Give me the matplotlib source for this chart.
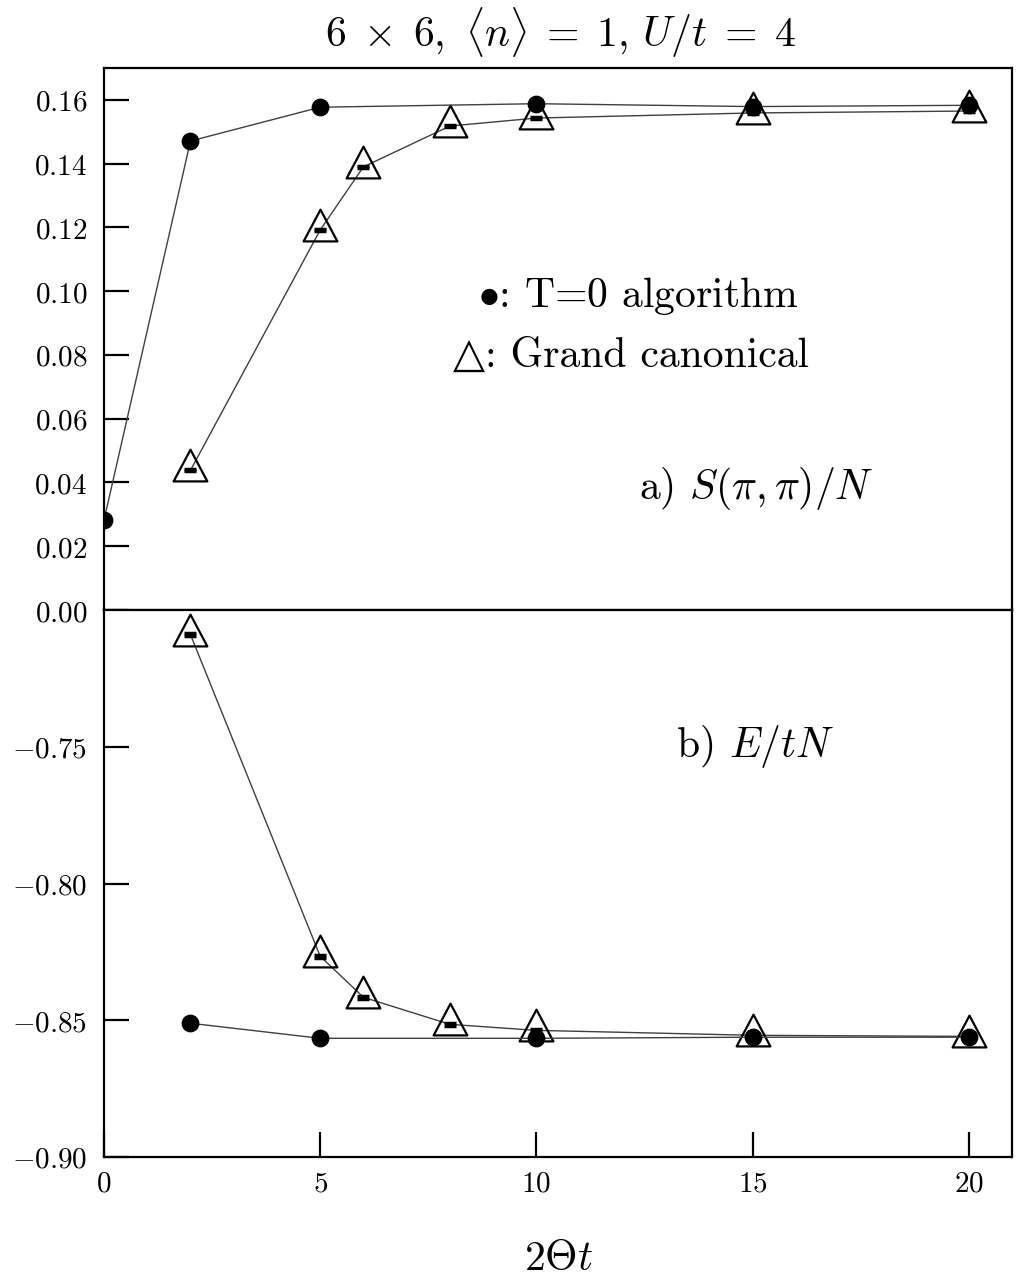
import matplotlib
matplotlib.use("Agg")
import matplotlib.pyplot as plt
from matplotlib.path import Path
import numpy as np

plt.rcParams['mathtext.fontset'] = 'cm'
plt.rcParams['axes.unicode_minus'] = True

# ---- data ----
x_t0_top = [0, 2, 5, 10, 15, 20]
s_t0 = [0.0282, 0.1471, 0.1577, 0.1588, 0.1579, 0.1583]

x_gc = [2, 5, 6, 8, 10, 15, 20]
s_gc = [0.0438, 0.1192, 0.1390, 0.1518, 0.1543, 0.1559, 0.1565]
s_gc_err = [0.0003, 0.0003, 0.0003, 0.0003, 0.0003, 0.0003, 0.0003]

x_t0_bot = [2, 5, 10, 15, 20]
e_t0 = [-0.8511, -0.8566, -0.8566, -0.8562, -0.8562]

e_gc = [-0.7090, -0.8266, -0.8416, -0.8515, -0.8537, -0.8555, -0.8559]
e_gc_err = [0.0006, 0.0006, 0.0006, 0.0006, 0.0006, 0.0006, 0.0006]

top_yticks = [0.00, 0.02, 0.04, 0.06, 0.08, 0.10, 0.12, 0.14, 0.16]
top_ylabels = ["0.00", "0.02", "0.04", "0.06", "0.08", "0.10", "0.12", "0.14", "0.16"]
bot_yticks = [-0.90, -0.85, -0.80, -0.75]
bot_ylabels = ["-0.90", "-0.85", "-0.80", "-0.75"]
xticks = [0, 5, 10, 15, 20]
xlabels = ["0", "5", "10", "15", "20"]

title = r"$6\;\times\;6,\ \langle n\rangle \;=\; 1,\, U/t \;=\; 4$"
leg1 = r"$\bullet$: T=0 algorithm"
leg2 = "\u25B3: Grand canonical"
panel_a = r"a) $S(\pi,\pi)/N$"
panel_b = r"b) $E/tN$"
xlab = r"$2\Theta t$"

# ---- figure ----
W, H = 1016, 1281
fig = plt.figure(figsize=(W/100, H/100), dpi=100)
left = 104/W
right = 1012/W
y_top = 1 - 68/H
y_mid = 1 - 610/H
y_bot = 1 - 1157/H
ax1 = fig.add_axes([left, y_mid, right-left, y_top-y_mid])
ax2 = fig.add_axes([left, y_bot, right-left, y_mid-y_bot])

tri = Path([(0, 21), (-17, -11), (17, -11), (0, 21)],
           [Path.MOVETO, Path.LINETO, Path.LINETO, Path.CLOSEPOLY])

lc = '#404040'
lw = 1.0

def draw(ax, xg, yg, eg, xc, yc):
    ax.errorbar(xg, yg, yerr=eg, fmt='none', ecolor='black', elinewidth=1.5,
                capsize=4.5, capthick=2.5, zorder=3)
    ax.plot(xg, yg, '-', color=lc, lw=lw, marker=tri, ms=30, mfc='none',
            mec='black', mew=1.6, zorder=2)
    ax.plot(xc, yc, '-', color=lc, lw=lw, marker='o', ms=11.8, mfc='black',
            mec='black', zorder=4)

draw(ax1, x_gc, s_gc, s_gc_err, x_t0_top, s_t0)
draw(ax2, x_gc, e_gc, e_gc_err, x_t0_bot, e_t0)

for ax in (ax1, ax2):
    ax.set_xlim(0, 21)
    for sp in ax.spines.values():
        sp.set_linewidth(1.6)
    ax.tick_params(direction='in', length=18, width=1.6, top=False, right=False)

ax1.set_ylim(0, 0.17)
ax2.set_ylim(-0.90, -0.70)

tfs = 21
ax1.set_yticks(top_yticks)
ax1.set_yticklabels([f"${s}$" for s in top_ylabels], fontsize=tfs)
ax2.set_yticks(bot_yticks)
ax2.set_yticklabels([f"${s}$" for s in bot_ylabels], fontsize=tfs)
ax1.tick_params(axis='x', bottom=False, labelbottom=False)
ax2.set_xticks(xticks)
ax2.set_xticklabels([f"${s}$" for s in xlabels], fontsize=tfs)
ax1.tick_params(axis='y', pad=12)
ax2.tick_params(axis='y', pad=12)
ax2.tick_params(axis='x', pad=9)

fs = 30
fig.text(560/W, 1 - 33/H, title, ha='center', va='center', fontsize=fs)

def fx(px):
    return (px - 104) / (1012 - 104)

def fy1(py):
    return 1 - (py - 68) / (610 - 68)

def fy2(py):
    return 1 - (py - 610) / (1157 - 610)

ax1.text(fx(478), fy1(307), leg1, transform=ax1.transAxes,
         ha='left', va='baseline', fontsize=fs, family='cmr10')
ax1.text(fx(453), fy1(367), leg2, transform=ax1.transAxes,
         ha='left', va='baseline', fontsize=fs, family=['cmr10', 'DejaVu Sans'])
ax1.text(fx(756), fy1(488), panel_a, transform=ax1.transAxes,
         ha='center', va='center', fontsize=fs, family='cmr10')
ax2.text(fx(755), fy2(747), panel_b, transform=ax2.transAxes,
         ha='center', va='center', fontsize=fs, family='cmr10')
fig.text(558/W, 1 - 1258/H, xlab, ha='center', va='center', fontsize=fs)

fig.savefig('out.png', dpi=100)
